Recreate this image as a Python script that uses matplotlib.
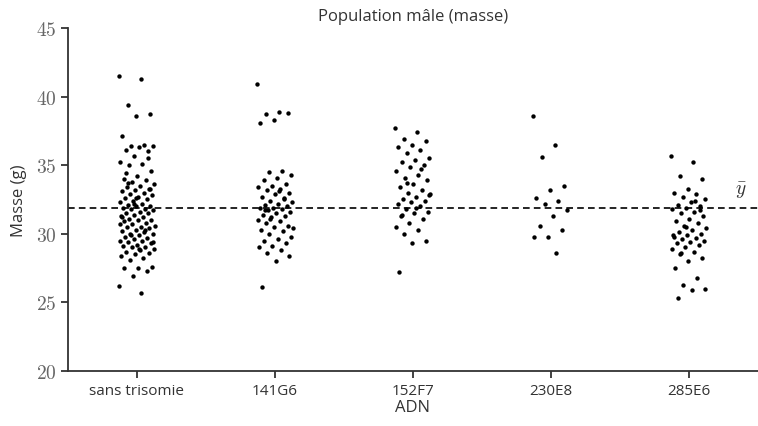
import numpy as np
import matplotlib
matplotlib.use("Agg")
import matplotlib.pyplot as plt

plt.rcParams['font.family'] = ['Open Sans', 'DejaVu Sans']
plt.rcParams['mathtext.fontset'] = 'cm'

# groups (ADN) and their masses (g)
categories = ["sans trisomie", "141G6", "152F7", "230E8", "285E6"]

masse_sans = [
    41.5, 41.3, 39.4, 38.7, 38.6, 37.1, 36.5, 36.4, 36.4, 36.3, 36.1, 36.0,
    35.7, 35.2, 35.1, 35.0, 34.6, 34.2, 34.0, 33.9, 33.8, 33.6, 33.5, 33.4,
    33.3, 33.2, 33.1, 33.0, 32.9, 32.8, 32.7, 32.6, 32.5, 32.4, 32.3, 32.2,
    32.1, 32.0, 32.0, 31.9, 31.8, 31.8, 31.7, 31.6, 31.5, 31.5, 31.4, 31.3,
    31.2, 31.1, 31.0, 31.0, 30.9, 30.8, 30.7, 30.6, 30.5, 30.5, 30.4, 30.3,
    30.2, 30.1, 30.0, 30.0, 29.9, 29.8, 29.7, 29.6, 29.5, 29.5, 29.4, 29.3,
    29.2, 29.1, 29.0, 29.0, 28.9, 28.8, 28.7, 28.6, 28.5, 28.4, 28.2, 28.1,
    27.6, 27.5, 27.5, 27.3, 26.9, 26.2, 25.7, 33.7, 33.3, 32.6, 31.2, 30.3,
    29.9, 29.4, 28.9, 34.4, 35.5, 32.2, 30.7,
]
masse_141g6 = [
    40.9, 38.9, 38.7, 38.8, 38.3, 38.1, 34.6, 34.5, 34.3, 34.1, 33.9, 33.6,
    33.5, 33.4, 33.3, 33.2, 33.0, 32.9, 32.7, 32.5, 32.4, 32.3, 32.2, 32.1,
    32.0, 31.9, 31.9, 31.8, 31.7, 31.6, 31.5, 31.4, 31.3, 31.2, 31.0, 30.9,
    30.8, 30.6, 30.5, 30.3, 30.2, 30.0, 29.8, 29.6, 29.5, 29.3, 29.1, 29.0,
    28.8, 28.6, 28.4, 28.0, 26.1, 32.6, 31.1, 30.4, 33.1, 31.7,
]
masse_152f7 = [
    37.7, 37.4, 36.9, 36.8, 36.5, 36.3, 36.1, 35.9, 35.5, 35.4, 35.2, 35.0,
    34.9, 34.6, 34.3, 34.1, 33.9, 33.6, 33.4, 33.2, 33.0, 32.9, 32.7, 32.5,
    32.4, 32.3, 32.2, 32.0, 31.8, 31.6, 31.5, 31.3, 31.1, 30.8, 30.5, 30.3,
    30.0, 29.5, 29.3, 27.2, 34.7, 33.7, 32.8, 31.9, 31.4,
]
masse_230e8 = [
    38.6, 36.5, 35.6, 33.5, 33.2, 32.6, 32.4, 32.2, 31.7, 31.3, 30.6, 30.3,
    29.8, 29.8, 28.6,
]
masse_285e6 = [
    35.7, 35.2, 34.2, 34.0, 33.3, 33.0, 32.9, 32.7, 32.5, 32.3, 32.1, 32.0,
    31.9, 31.8, 31.6, 31.5, 31.3, 31.1, 30.9, 30.8, 30.6, 30.4, 30.3, 30.1,
    30.0, 29.9, 29.8, 29.7, 29.6, 29.5, 29.4, 29.3, 29.2, 29.0, 28.9, 28.7,
    28.5, 28.2, 28.0, 27.5, 26.8, 26.3, 26.0, 25.9, 25.3, 31.7, 30.5, 29.9,
    32.4, 28.6,
]
groups = [masse_sans, masse_141g6, masse_152f7, masse_230e8, masse_285e6]

y_bar = 31.87
yticks = [20, 25, 30, 35, 40, 45]

fig = plt.figure(figsize=(7.58, 4.27), dpi=100)
ax = fig.add_axes([0.0897, 0.129, 0.9103, 0.803])

for i, vals in enumerate(groups):
    vals = np.asarray(vals)
    n = len(vals)
    # deterministic strip jitter
    jit = ((np.arange(n) * 0.618034) % 1.0 - 0.5) * 0.26
    ax.scatter(i + jit, vals, s=10, color='black', linewidths=0, zorder=3)

ax.axhline(y_bar, color='black', linestyle=(0, (4, 2.5)), linewidth=1.2, zorder=2)
ax.text(4.33, y_bar + 0.6, r"$\bar{y}$", fontsize=14, color='#333333',
        ha='left', va='bottom')

ax.set_xlim(-0.5, 4.5)
ax.set_ylim(20, 45)
ax.set_xticks(range(len(categories)), categories)
ax.set_yticks(yticks, [f"${v}$" for v in yticks])

for side in ('top', 'right'):
    ax.spines[side].set_visible(False)
for side in ('left', 'bottom'):
    ax.spines[side].set_color('#333333')
    ax.spines[side].set_linewidth(1.3)

ax.tick_params(axis='both', colors='#333333', width=1.3, length=5)
ax.tick_params(axis='y', labelsize=14, labelcolor='#666666')
ax.tick_params(axis='x', labelsize=11, labelcolor='#333333')

ax.set_xlabel("ADN", fontsize=12, color='#333333', labelpad=1)
ax.set_ylabel("Masse (g)", fontsize=12, color='#333333', labelpad=6)
ax.set_title("Population mâle (masse)", fontsize=12, color='#333333', pad=6)

fig.savefig("out.png", dpi=100)
